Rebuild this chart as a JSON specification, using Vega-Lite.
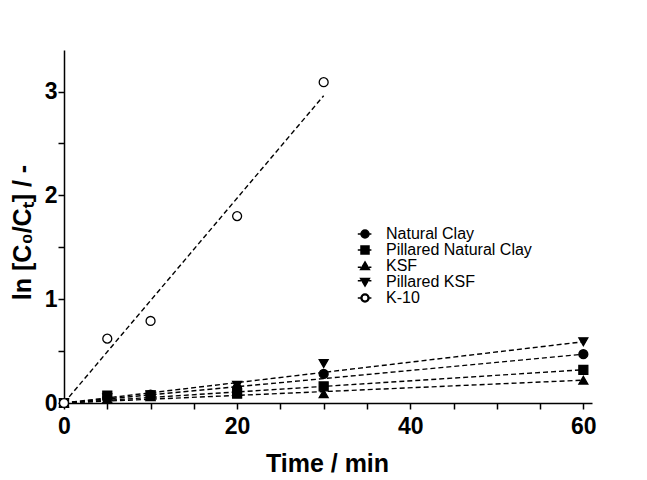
{
  "$schema": "https://vega.github.io/schema/vega-lite/v6.json",
  "width": 528,
  "height": 353,
  "autosize": "none",
  "padding": {"left": 64, "top": 50, "right": 55, "bottom": 77},
  "background": "white",
  "config": {
    "view": {"stroke": null},
    "font": "Liberation Sans",
    "axis": {
      "domainColor": "black",
      "domainWidth": 1.5,
      "tickColor": "black",
      "tickWidth": 1.5,
      "grid": false,
      "labelFont": "Liberation Sans",
      "labelFontWeight": "bold",
      "labelFontSize": 23,
      "labelColor": "black",
      "titleFont": "Liberation Sans",
      "titleFontWeight": "bold",
      "titleFontSize": 25,
      "titleColor": "black"
    }
  },
  "datasets": {
    "points": [
      {"series": "Natural Clay", "time": 0, "value": 0},
      {"series": "Natural Clay", "time": 5, "value": 0.05},
      {"series": "Natural Clay", "time": 10, "value": 0.08},
      {"series": "Natural Clay", "time": 20, "value": 0.14},
      {"series": "Natural Clay", "time": 30, "value": 0.28},
      {"series": "Natural Clay", "time": 60, "value": 0.47},
      {"series": "Pillared Natural Clay", "time": 0, "value": 0},
      {"series": "Pillared Natural Clay", "time": 5, "value": 0.07},
      {"series": "Pillared Natural Clay", "time": 10, "value": 0.07},
      {"series": "Pillared Natural Clay", "time": 20, "value": 0.09},
      {"series": "Pillared Natural Clay", "time": 30, "value": 0.16},
      {"series": "Pillared Natural Clay", "time": 60, "value": 0.32},
      {"series": "KSF", "time": 0, "value": 0},
      {"series": "KSF", "time": 5, "value": 0.04},
      {"series": "KSF", "time": 10, "value": 0.06},
      {"series": "KSF", "time": 20, "value": 0.11},
      {"series": "KSF", "time": 30, "value": 0.09},
      {"series": "KSF", "time": 60, "value": 0.22},
      {"series": "Pillared KSF", "time": 0, "value": 0},
      {"series": "Pillared KSF", "time": 5, "value": 0.05},
      {"series": "Pillared KSF", "time": 10, "value": 0.08},
      {"series": "Pillared KSF", "time": 20, "value": 0.17},
      {"series": "Pillared KSF", "time": 30, "value": 0.38},
      {"series": "Pillared KSF", "time": 60, "value": 0.59},
      {"series": "K-10", "time": 0, "value": 0},
      {"series": "K-10", "time": 5, "value": 0.62},
      {"series": "K-10", "time": 10, "value": 0.79},
      {"series": "K-10", "time": 20, "value": 1.80},
      {"series": "K-10", "time": 30, "value": 3.09}
    ],
    "fits": [
      {"series": "Natural Clay", "time": 0, "value": 0},
      {"series": "Natural Clay", "time": 60, "value": 0.47},
      {"series": "Pillared Natural Clay", "time": 0, "value": 0},
      {"series": "Pillared Natural Clay", "time": 60, "value": 0.32},
      {"series": "KSF", "time": 0, "value": 0},
      {"series": "KSF", "time": 60, "value": 0.22},
      {"series": "Pillared KSF", "time": 0, "value": 0},
      {"series": "Pillared KSF", "time": 60, "value": 0.59},
      {"series": "K-10", "time": 0, "value": 0},
      {"series": "K-10", "time": 30, "value": 2.96}
    ]
  },
  "resolve": {"scale": {"shape": "independent"}},
  "layer": [
    {
      "data": {"name": "fits"},
      "mark": {"type": "line", "color": "black", "strokeWidth": 1.4, "strokeDash": [5, 3], "clip": false},
      "encoding": {
        "x": {
          "field": "time", "type": "quantitative",
          "scale": {"domain": [0, 61], "nice": false, "zero": false},
          "axis": {
            "title": "Time / min",
            "values": [0, 5, 10, 15, 20, 25, 30, 35, 40, 45, 50, 55, 60],
            "labelExpr": "datum.value % 20 === 0 ? format(datum.value, 'd') : ''",
            "tickSize": 6,
            "labelPadding": 6,
            "labelFlush": false,
            "labelOverlap": false,
            "titleX": 263,
            "titleY": 60,
            "titleBaseline": "middle",
            "encode": {"ticks": {"update": {"y2": {"signal": "datum.value % 20 === 0 ? 6 : 3.5"}}}}
          }
        },
        "y": {
          "field": "value", "type": "quantitative",
          "scale": {"domain": [0, 3.4], "nice": false, "zero": false},
          "axis": {
            "title": "ln [C₀/Cₜ] / -",
            "values": [0, 0.25, 0.5, 0.75, 1, 1.25, 1.5, 1.75, 2, 2.25, 2.5, 2.75, 3, 3.25],
            "labelExpr": "datum.value % 1 === 0 ? format(datum.value, 'd') : ''",
            "tickSize": 6,
            "labelPadding": 1,
            "labelOverlap": false,
            "labelFlush": false,
            "titleX": -42,
            "titleY": 182,
            "titleBaseline": "middle",
            "titleAlign": "center",
            "encode": {"ticks": {"update": {"x2": {"signal": "datum.value % 1 === 0 ? -6 : -3.5"}}}}
          }
        },
        "detail": {"field": "series"}
      }
    },
    {
      "data": {"name": "points"},
      "mark": {"type": "point", "filled": false, "stroke": "black", "strokeWidth": 1.3, "size": 80, "opacity": 1, "clip": false},
      "encoding": {
        "x": {"field": "time", "type": "quantitative"},
        "y": {"field": "value", "type": "quantitative"},
        "shape": {
          "field": "series", "type": "nominal",
          "scale": {
            "domain": ["Natural Clay", "Pillared Natural Clay", "KSF", "Pillared KSF", "K-10"],
            "range": ["circle", "square", "triangle-up", "triangle-down", "circle"]
          },
          "legend": null
        },
        "fill": {
          "field": "series", "type": "nominal",
          "scale": {
            "domain": ["Natural Clay", "Pillared Natural Clay", "KSF", "Pillared KSF", "K-10"],
            "range": ["black", "black", "black", "black", "white"]
          },
          "legend": null
        }
      }
    },
    {
      "data": {"name": "points"},
      "mark": {"type": "point", "filled": true, "fill": "black", "stroke": "black", "strokeWidth": 0.9, "opacity": 0, "clip": false},
      "encoding": {
        "x": {"field": "time", "type": "quantitative"},
        "y": {"field": "value", "type": "quantitative"},
        "shape": {
          "field": "series", "type": "nominal",
          "scale": {
            "domain": ["Natural Clay", "Pillared Natural Clay", "KSF", "Pillared KSF", "K-10"],
            "range": [
              "M-1.8,0H-1M1,0H1.6M1,0A1,1 0 1,1 -1,0A1,1 0 1,1 1,0Z",
              "M-1.8,0H-1M1,0H1.6M-1,-1H1V1H-1Z",
              "M-1.8,0.3H-1M1,0.3H1.6M0,-1L1.1,0.9H-1.1Z",
              "M-1.8,-0.3H-1M1,-0.3H1.6M0,1L1.1,-0.9H-1.1Z",
              "M-1.8,0H-1M1,0H1.6M1,0A1,1 0 1,1 -1,0A1,1 0 1,1 1,0ZM0.8,0A0.8,0.8 0 1,0 -0.8,0A0.8,0.8 0 1,0 0.8,0Z"
            ]
          },
          "legend": {
            "title": null,
            "orient": "none",
            "legendX": 293,
            "legendY": 176,
            "padding": 0,
            "labelFont": "Liberation Sans",
            "labelFontSize": 16,
            "labelColor": "black",
            "labelOffset": 13,
            "rowPadding": -5,
            "symbolSize": 64
          }
        }
      }
    }
  ]
}
